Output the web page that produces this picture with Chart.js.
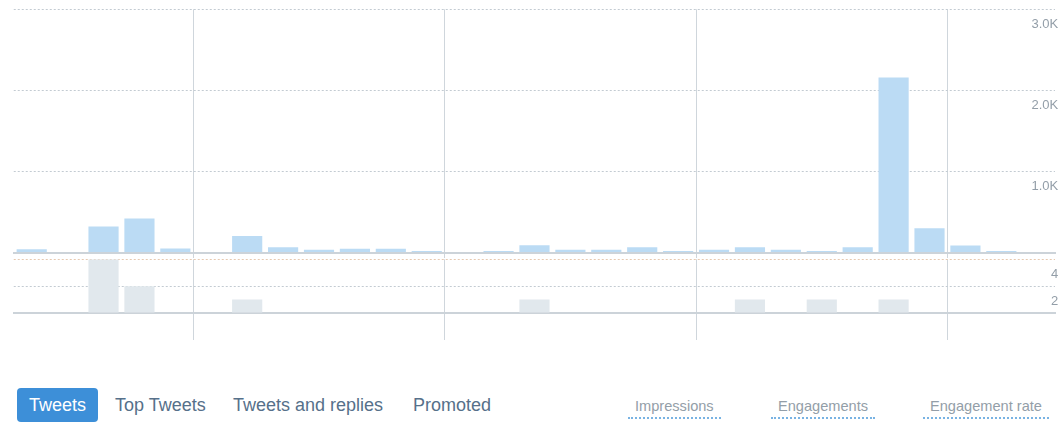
<!DOCTYPE html>
<html>
<head>
<meta charset="utf-8">
<script src="https://cdn.jsdelivr.net/npm/chart.js@4.4.1/dist/chart.umd.min.js"></script>
<style>
  body { margin: 0; background: #fff; width: 1061px; height: 432px; overflow: hidden; position: relative;
         font-family: "Liberation Sans", Arial, sans-serif; }
  canvas { position: absolute; left: 0; }
  #impChart { top: 0; }
  #engChart { top: 258px; }
  .tab { position: absolute; top: 388px; height: 34px; line-height: 34px; font-size: 18px; color: #56708a; white-space: nowrap; }
  .tab.active { background: #3d8fd8; color: #fff; border-radius: 4px; width: 81px; text-align: center; }
  .metric { position: absolute; top: 396px; font-size: 14.6px; color: #939ea8; padding: 0 7px 1px 7px;
            border-bottom: 2px dotted #79b3e3; line-height: 20px; white-space: nowrap; }
</style>
</head>
<body>
<canvas id="impChart" width="1061" height="258"></canvas>
<canvas id="engChart" width="1061" height="87"></canvas>

<div class="tab active" style="left:17px">Tweets</div>
<div class="tab" style="left:115px">Top Tweets</div>
<div class="tab" style="left:233px">Tweets and replies</div>
<div class="tab" style="left:413px">Promoted</div>

<div class="metric" style="left:628px">Impressions</div>
<div class="metric" style="left:771px">Engagements</div>
<div class="metric" style="left:923px">Engagement rate</div>

<script>
const days = ['1', '2', '3', '4', '5', '6', '7', '8', '9', '10', '11', '12', '13', '14', '15',
              '16', '17', '18', '19', '20', '21', '22', '23', '24', '25', '26', '27', '28', '29'];

const impressions = [40, 0, 320, 420, 50, 0, 205, 65, 35, 45, 45, 20, 0, 20, 90,
                     35, 35, 65, 20, 35, 65, 35, 20, 65, 2160, 300, 85, 20, 0];

const engagements = [0, 0, 4, 2, 0, 0, 1, 0, 0, 0, 0, 0, 0, 0, 1,
                     0, 0, 0, 0, 0, 1, 0, 1, 0, 1, 0, 0, 0, 0];

const impressionTicks = ['', '1.0K', '2.0K', '3.0K'];
const engagementTicks = ['', '2', '4'];

// week separators (grid line index at left edge of category)
const weekStarts = [5, 12, 19, 26];

const tickFont = { family: '"Liberation Sans", Arial, sans-serif', size: 13 };

function flatAxis(scale) {
    scale.width = 0;
    scale.paddingTop = 0;
    scale.paddingBottom = 0;
}

function xAxis(tickLen) {
    return {
        ticks: { display: false },
        grid: {
            color: (ctx) => weekStarts.includes(ctx.index) ? '#cfd6dc' : 'rgba(0,0,0,0)',
            lineWidth: 1,
            tickLength: tickLen
        },
        border: { display: true, color: '#ccd3d9', width: 2 }
    };
}

function makeChart(id, data, color, max, step, labels, padding, tickLen, topLine) {
    const ctx = document.getElementById(id).getContext('2d');
    return new Chart(ctx, {
        type: 'bar',
        data: {
            labels: days,
            datasets: [{
                data: data,
                backgroundColor: color,
                categoryPercentage: 1,
                barPercentage: 0.84
            }]
        },
        options: {
            responsive: false,
            animation: false,
            layout: { padding: padding },
            plugins: { legend: { display: false }, tooltip: { enabled: false } },
            scales: {
                x: xAxis(tickLen),
                y: {
                    position: 'right',
                    min: 0,
                    max: max,
                    afterFit: flatAxis,
                    ticks: {
                        stepSize: step,
                        mirror: true,
                        padding: 3,
                        labelOffset: 15,
                        color: '#939ea8',
                        font: tickFont,
                        callback: (v, i) => labels[i]
                    },
                    grid: {
                        drawTicks: false,
                        color: (c) => (topLine && c.index === labels.length - 1) ? '#e6c9b0' : '#c3cbd2'
                    },
                    border: { display: false, dash: [2, 2] }
                }
            }
        }
    });
}

makeChart('impChart', impressions, '#bbdbf4', 3000, 1000, impressionTicks,
          { top: 9.3, left: 13.75, right: 5.8, bottom: 0 }, 5.5, false);

makeChart('engChart', engagements, '#e1e8ed', 4, 2, engagementTicks,
          { top: 1.3, left: 13.75, right: 5.8, bottom: 5 }, 27, true);
</script>
</body>
</html>
